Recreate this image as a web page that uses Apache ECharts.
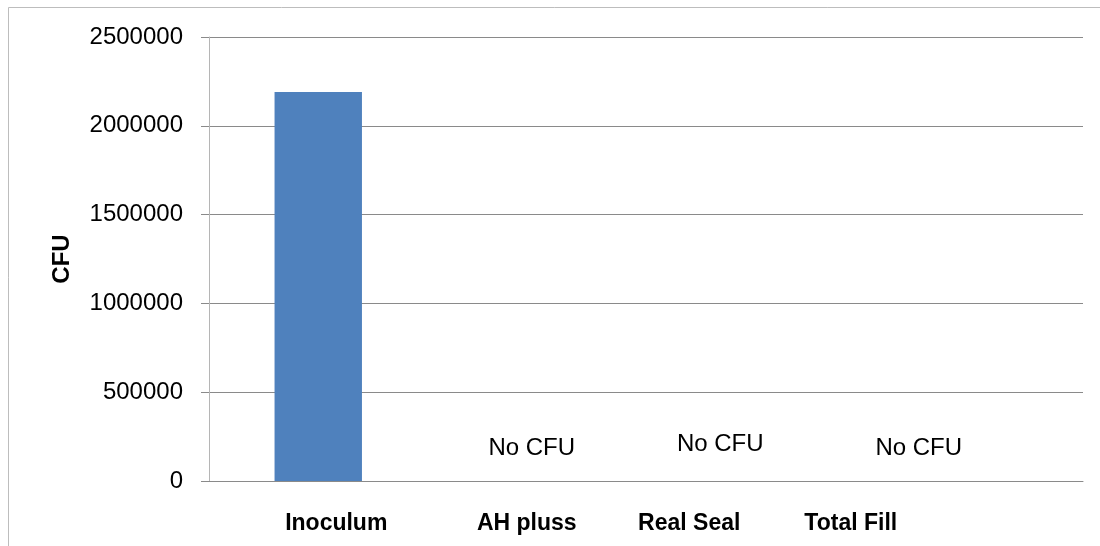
<!DOCTYPE html>
<html>
<head>
<meta charset="utf-8">
<script src="https://cdn.jsdelivr.net/npm/echarts@6/dist/echarts.min.js"></script>
<style>html,body{margin:0;padding:0;background:#fff;}#c{width:1100px;height:546px;}</style>
</head>
<body>
<div id="c"></div>
<script>
var categories = ['Inoculum', 'AH pluss', 'Real Seal', 'Total Fill'];
var cfuValues = [2190000, 0, 0, 0];
var noteLabels = ['', 'No CFU', 'No CFU', 'No CFU'];
var yTicks = [0, 500000, 1000000, 1500000, 2000000, 2500000];

var FONT = 'Liberation Sans, Arial, sans-serif';
var labelOffsets = [[0, 0], [-5, -33], [-35, -37], [-55, -33]];
var catPad = [[0, 0, 0, 36], [0, 20, 0, 0], [0, 132, 0, 0], [0, 246, 0, 0]];

var rich = {};
categories.forEach(function (c, i) {
  rich['c' + i] = { fontFamily: FONT, fontWeight: 'bold', fontSize: 23, color: '#000', padding: catPad[i] };
});

var barData = cfuValues.map(function (v, i) {
  var item = { value: v };
  if (noteLabels[i]) {
    item.label = {
      show: true, position: 'inside', formatter: noteLabels[i],
      offset: labelOffsets[i], color: '#000', fontSize: 24,
      fontFamily: FONT
    };
  }
  return item;
});

var chart = echarts.init(document.getElementById('c'), null, { renderer: 'canvas' });
chart.setOption({
  animation: false,
  backgroundColor: '#fff',
  graphic: [{
    type: 'rect', silent: true, z: -10,
    shape: { x: 8.5, y: 7.5, width: 1200, height: 700 },
    style: { fill: 'none', stroke: '#bdbdbd', lineWidth: 1 }
  }],
  grid: { left: 209, right: 17, top: 37, bottom: 65, containLabel: false },
  xAxis: {
    type: 'category',
    data: categories,
    axisLine: { show: true, lineStyle: { color: '#8a8a8a', width: 1 } },
    axisTick: { show: false },
    axisLabel: {
      margin: 31,
      interval: 0,
      formatter: function (v, i) { return '{c' + i + '|' + v + '}'; },
      rich: rich
    },
    splitLine: { show: false }
  },
  yAxis: {
    type: 'value',
    min: yTicks[0],
    max: yTicks[yTicks.length - 1],
    interval: yTicks[1] - yTicks[0],
    name: 'CFU',
    nameLocation: 'middle',
    nameGap: 135,
    nameRotate: 90,
    nameTextStyle: { fontFamily: FONT, fontWeight: 'bold', fontSize: 24, color: '#000' },
    axisLine: { show: true, lineStyle: { color: '#b5b5b5', width: 1 } },
    axisTick: { show: true, length: 8, lineStyle: { color: '#8a8a8a' } },
    axisLabel: {
      margin: 26, color: '#000', fontSize: 24,
      fontFamily: FONT,
      formatter: function (v) { return String(v); }
    },
    splitLine: { show: true, lineStyle: { color: '#8a8a8a', width: 1 } }
  },
  series: [{
    type: 'bar',
    data: barData,
    barWidth: '40%',
    itemStyle: { color: '#4F81BD' }
  }]
});
</script>
</body>
</html>
